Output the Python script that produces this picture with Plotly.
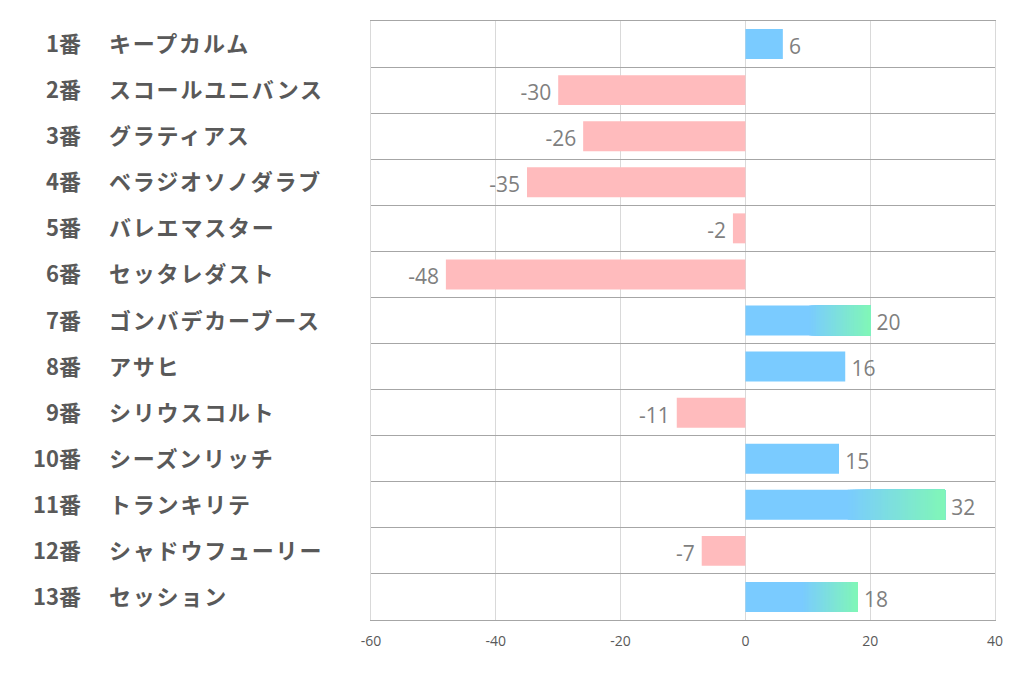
import plotly.graph_objects as go

numbers = ["1番", "2番", "3番", "4番", "5番", "6番", "7番", "8番", "9番", "10番", "11番", "12番", "13番"]
names = ["キープカルム", "スコールユニバンス", "グラティアス", "ベラジオソノダラブ", "バレエマスター",
         "セッタレダスト", "ゴンバデカーブース", "アサヒ", "シリウスコルト", "シーズンリッチ",
         "トランキリテ", "シャドウフューリー", "セッション"]
values = [6, -30, -26, -35, -2, -48, 20, 16, -11, 15, 32, -7, 18]
x_ticks = [-60, -40, -20, 0, 20, 40]
x_tick_labels = ["-60", "-40", "-20", "0", "20", "40"]

BLUE = (122, 203, 255)
GREEN = (128, 246, 184)
RED = "#FFBBBD"
GRAD_START = 0.5
N_SEG = 40
BAR_W = 0.65

rows = list(range(len(values)))
top3 = sorted([v for v in values if v > 0], reverse=True)[:3]

fig = go.Figure()

def rgb(c):
    return "rgb(%d,%d,%d)" % c

# base bars (full length)
colors = [rgb(BLUE) if v > 0 else RED for v in values]
fig.add_trace(go.Bar(y=rows, x=values, orientation="h", width=BAR_W,
                     marker=dict(color=colors, line=dict(width=0)), hoverinfo="skip"))

# gradient overlay segments (each runs to the bar end; later ones overlay earlier ones)
seg_y, seg_base, seg_x, seg_c = [], [], [], []
for r, v in zip(rows, values):
    if v > 0 and v in top3:
        start = v * GRAD_START
        step = (v - start) / N_SEG
        for i in range(1, N_SEG):
            t = i / (N_SEG - 1)
            c = tuple(int(round(BLUE[k] + (GREEN[k] - BLUE[k]) * t)) for k in range(3))
            b = start + i * step
            seg_y.append(r)
            seg_base.append(b)
            seg_x.append(v - b)
            seg_c.append(rgb(c))
fig.add_trace(go.Bar(y=seg_y, x=seg_x, base=seg_base, orientation="h", width=BAR_W,
                     marker=dict(color=seg_c, line=dict(width=0)), hoverinfo="skip"))

# value labels
pos = [r for r, v in zip(rows, values) if v >= 0]
neg = [r for r, v in zip(rows, values) if v < 0]
lab_font = dict(family="Open Sans, sans-serif", size=21, color="#7F7F7F")
fig.add_trace(go.Scatter(y=[r + 0.1 for r in pos], x=[values[r] + 1.0 for r in pos], mode="text",
                         text=[str(values[r]) for r in pos], textposition="middle right",
                         textfont=lab_font, hoverinfo="skip"))
fig.add_trace(go.Scatter(y=[r + 0.1 for r in neg], x=[values[r] - 1.1 for r in neg], mode="text",
                         text=[str(values[r]) for r in neg], textposition="middle left",
                         textfont=lab_font, hoverinfo="skip"))

# page offset (body margin of the html page)
OFF = 8
L = 371 - OFF
T = 21 - OFF
FIG_W = 1022 - OFF
FIG_H = 678 - OFF
R = FIG_W - (995 - OFF)
B = FIG_H - (620 - OFF)
PW = FIG_W - L - R

row_font = dict(family="Noto Sans CJK JP", size=22, color="#595959", weight="bold")
annotations = []
for r in rows:
    annotations.append(dict(x=(83 - OFF - L) / PW, y=r, xref="paper", yref="y",
                            xanchor="right", yanchor="middle", yshift=2,
                            text=numbers[r], showarrow=False, font=row_font))
    annotations.append(dict(x=(107 - OFF - L) / PW, y=r, xref="paper", yref="y",
                            xanchor="left", yanchor="middle", yshift=2,
                            text='<span style="letter-spacing:1.8px">' + names[r] + "</span>",
                            showarrow=False, font=row_font))

fig.update_layout(
    width=FIG_W, height=FIG_H,
    margin=dict(l=L, r=R, t=T, b=B),
    paper_bgcolor="white", plot_bgcolor="white",
    barmode="overlay", showlegend=False,
    annotations=annotations,
    xaxis=dict(range=[-60, 40], tickvals=x_ticks, ticktext=x_tick_labels,
               showgrid=True, gridcolor="#D9D9D9", gridwidth=1,
               zeroline=False, showline=True, mirror=True, linecolor="#A6A6A6", linewidth=1,
               ticks="", ticklen=0, ticklabelstandoff=8,
               tickfont=dict(family="Open Sans, sans-serif", size=14, color="#595959")),
    yaxis=dict(range=[len(values) - 0.5, -0.5], tickvals=[i - 0.5 for i in range(len(values) + 1)],
               ticktext=[""] * (len(values) + 1), showgrid=True, gridcolor="#A6A6A6", gridwidth=1,
               zeroline=False, showline=True, mirror=True, linecolor="#D9D9D9", linewidth=1,
               ticks=""),
)

fig.write_html("out.html")
